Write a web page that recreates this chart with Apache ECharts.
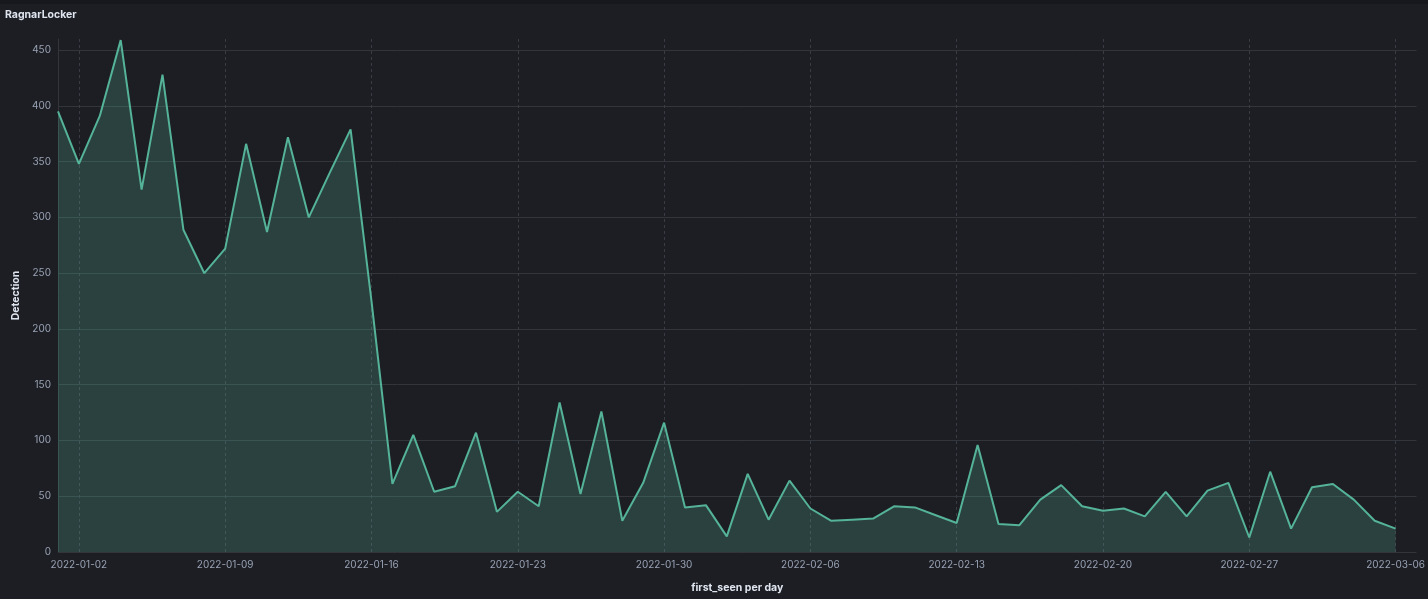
<!DOCTYPE html>
<html>
<head>
<meta charset="utf-8">
<script src="https://cdn.jsdelivr.net/npm/echarts@6/dist/echarts.min.js"></script>
<style>
html,body{margin:0;padding:0;background:#1d1e24;}
#c{width:1428px;height:599px;}
</style>
</head>
<body>
<div id="c"></div>
<script>
// categories: daily dates 2022-01-01 .. 2022-03-07 (last is axis padding, no value)
const startDate = '2022-01-01';
const dayCount = 66;
const detections = [
  395, 348, 391, 459, 325, 428, 289, 250, 272, 366,
  287, 372, 300, 340, 379, 225, 61, 105, 54, 59,
  107, 36, 54, 41, 134, 52, 126, 28, 62, 116,
  40, 42, 14, 70, 29, 64, 39, 28, 29, 30,
  41, 40, 33, 26, 96, 25, 24, 47, 60, 41,
  37, 39, 32, 54, 32, 55, 62, 13, 72, 21,
  58, 61, 47, 28, 21
];
const yTicks = [0, 50, 100, 150, 200, 250, 300, 350, 400, 450];
const titleText = 'RagnarLocker';
const xName = 'first_seen per day';
const yName = 'Detection';

function fmt(d){
  const m = String(d.getUTCMonth()+1).padStart(2,'0');
  const dd = String(d.getUTCDate()).padStart(2,'0');
  return d.getUTCFullYear() + '-' + m + '-' + dd;
}
const categories = [];
const base = new Date(startDate + 'T00:00:00Z');
for (let i = 0; i < dayCount; i++) {
  categories.push(fmt(new Date(base.getTime() + i*86400000)));
}
const seriesData = categories.map((c, i) => i < detections.length ? detections[i] : '-');
const isWeekTick = (idx) => idx >= 1 && (idx - 1) % 7 === 0 && idx < detections.length;

const gridColor = '#33353d';
const splitColors = yTicks.map(() => gridColor).concat(['rgba(0,0,0,0)']);

const chart = echarts.init(document.getElementById('c'), null, {renderer: 'canvas'});
chart.setOption({
  backgroundColor: '#1d1e24',
  animation: false,
  graphic: [{
    type: 'rect', left: 0, top: 0, shape: {width: 1428, height: 4},
    style: {fill: '#17181d'}, silent: true
  }],
  title: {
    text: titleText, left: 5, top: 9, padding: 0,
    textStyle: {color: '#dfe5ef', fontSize: 10.5, fontWeight: 'bold', fontFamily: 'Inter'}
  },
  grid: {left: 58, right: 6, top: 39, bottom: 47, containLabel: false},
  xAxis: {
    type: 'category', data: categories, boundaryGap: false,
    name: xName, nameLocation: 'middle', nameGap: 30,
    nameTextStyle: {color: '#dfe5ef', fontSize: 10.5, fontWeight: 'bold', fontFamily: 'Inter'},
    axisLine: {show: false}, axisTick: {show: false},
    axisLabel: {
      color: '#98a2b3', fontSize: 10, fontFamily: 'Inter', margin: 8,
      interval: (idx) => isWeekTick(idx)
    },
    splitLine: {
      show: true, interval: (idx) => isWeekTick(idx),
      lineStyle: {color: '#3a3c45', type: [3, 3], width: 1}
    }
  },
  yAxis: {
    type: 'value', min: 0, max: 460, interval: 50,
    name: yName, nameLocation: 'middle', nameGap: 37, nameRotate: 90,
    nameTextStyle: {color: '#dfe5ef', fontSize: 10.5, fontWeight: 'bold', fontFamily: 'Inter'},
    axisLine: {show: true, lineStyle: {color: gridColor}},
    axisTick: {show: false},
    axisLabel: {
      color: '#98a2b3', fontSize: 10, fontFamily: 'Inter', margin: 7,
      showMaxLabel: false,
      formatter: (v) => (yTicks.indexOf(v) >= 0 ? String(v) : '')
    },
    splitLine: {show: true, lineStyle: {color: splitColors, width: 1}}
  },
  series: [{
    type: 'line', data: seriesData, symbol: 'none', showSymbol: false,
    lineStyle: {color: '#54b399', width: 2},
    itemStyle: {color: '#54b399'},
    areaStyle: {color: 'rgba(84,179,153,0.34)'},
    connectNulls: false
  }]
});
</script>
</body>
</html>
